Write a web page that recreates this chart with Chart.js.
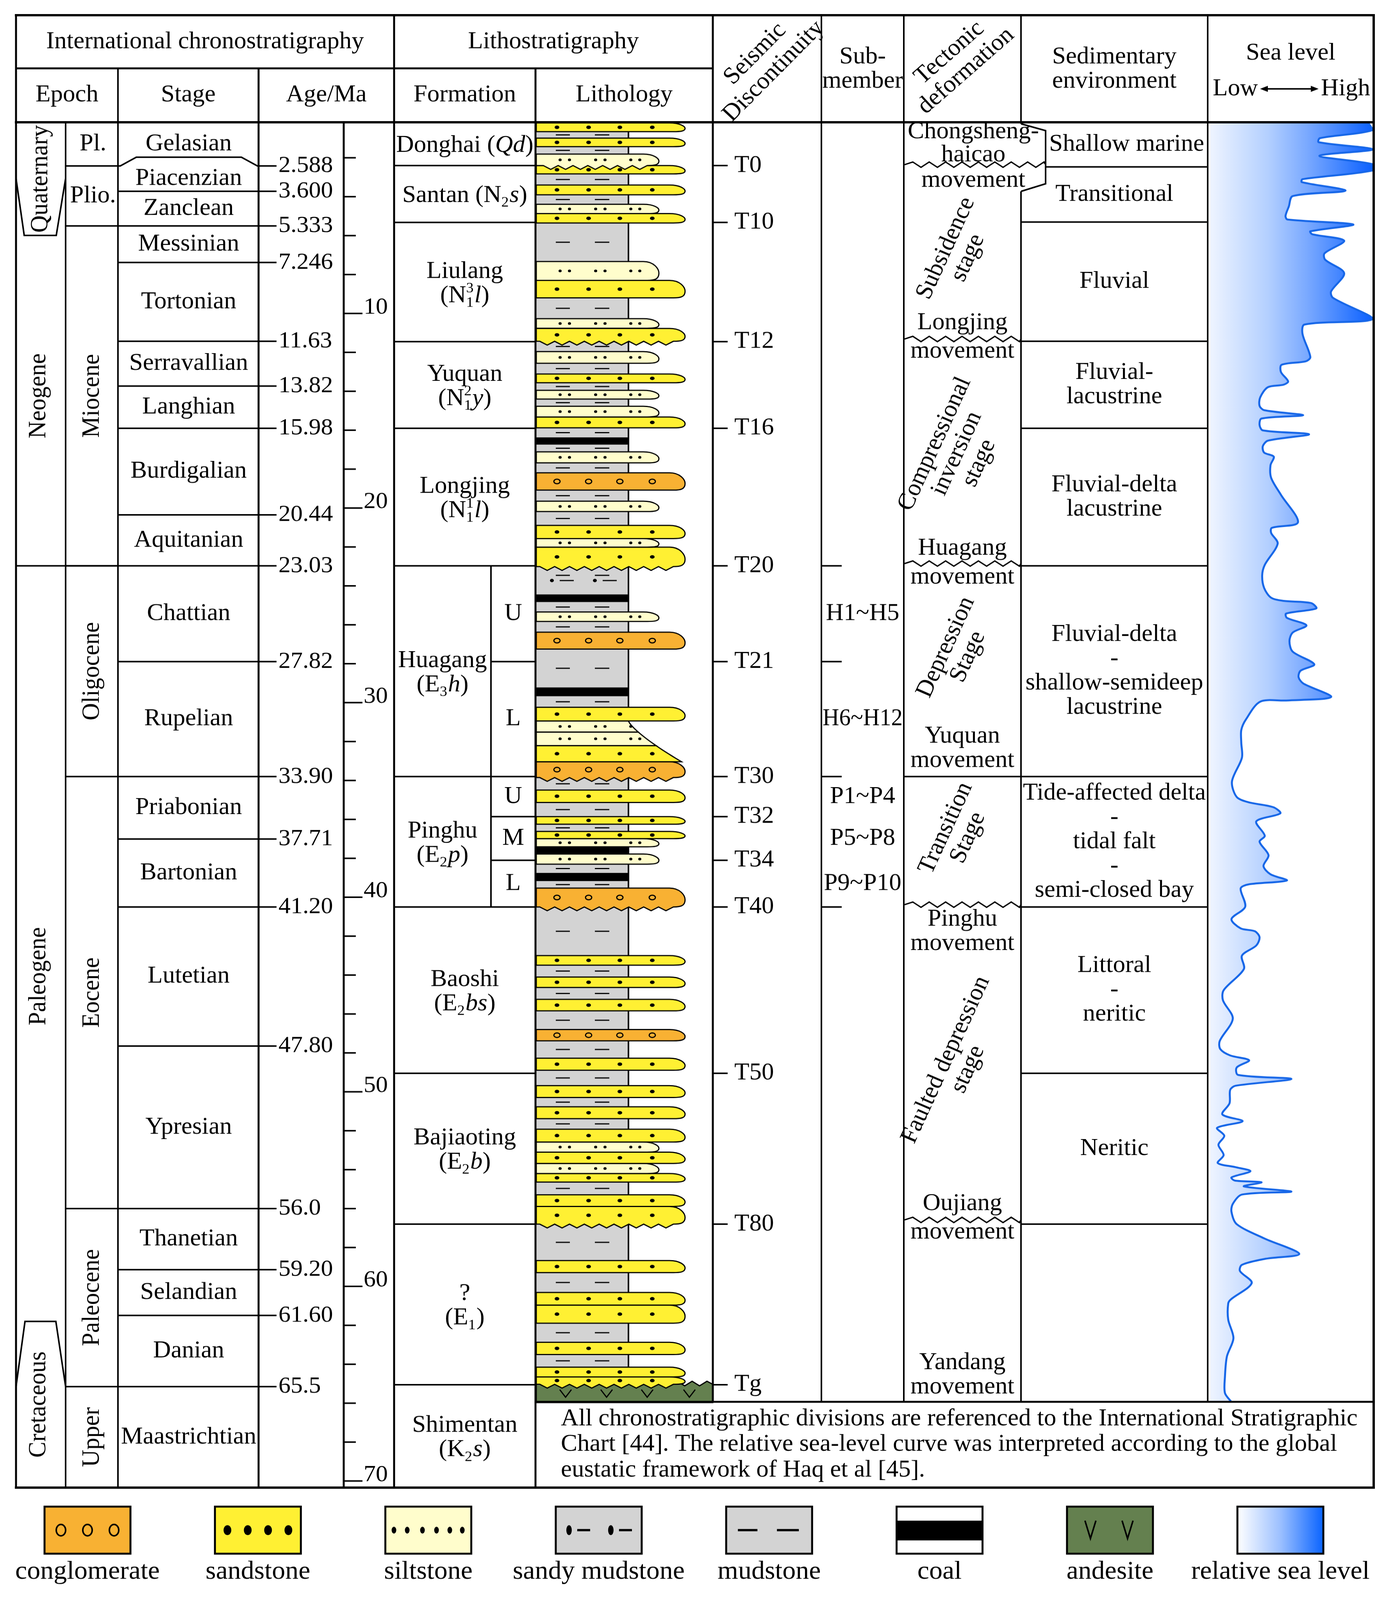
<!DOCTYPE html>
<html>
<head>
<meta charset="utf-8">
<script src="https://cdn.jsdelivr.net/npm/chart.js@4.4.1/dist/chart.umd.min.js"></script>
<style>
html,body{margin:0;padding:0;background:#ffffff;overflow:hidden;width:100%;height:100%;}
canvas{display:block;}
</style>
</head>
<body>
<canvas id="chart" width="3569" height="4214" style="width:100vw;height:100vh"></canvas>
<script>
// ================= DATA =================
// Relative sea level curve: age (Ma, plotted position) and level (0 = low, 100 = high)
const seaLevelAge = [0.18,0.59,0.99,1.20,1.57,1.90,2.34,2.66,3.10,3.25,3.69,3.97,4.51,4.99,5.17,5.43,5.78,5.93,6.26,6.91,7.24,7.93,8.87,9.20,10.28,10.57,11.05,12.24,12.46,12.64,13.01,13.49,13.66,13.79,14.31,14.75,14.97,15.23,15.40,15.73,16.01,16.21,16.54,16.82,17.15,17.36,17.80,18.45,19.32,20.74,21.02,21.28,21.83,22.92,23.46,24.11,24.61,24.77,24.88,25.16,25.42,25.64,26.03,26.40,26.84,27.38,28.03,28.36,28.69,29.01,29.71,29.89,29.95,30.87,31.41,32.06,32.83,34.05,34.85,35.12,35.37,35.69,36.10,36.84,37.15,37.84,38.40,38.82,39.14,39.34,39.55,40.49,41.12,41.60,41.75,42.06,42.48,43.00,43.69,44.78,45.30,46.24,47.39,47.81,48.13,48.38,48.75,49.13,49.34,49.69,49.90,50.59,51.16,51.51,51.85,52.26,52.72,53.25,53.66,53.87,54.08,54.40,54.56,54.65,54.86,55.13,55.28,55.76,56.17,56.80,57.53,58.33,58.58,58.89,59.21,59.83,60.67,60.88,61.71,62.66,63.60,64.64,65.48,65.94];
const seaLevelValue = [96.5,99.0,67.1,66.3,99.4,66.7,99.8,99.0,56.4,56.0,82.7,50.4,48.0,46.0,47.2,87.5,61.2,62.4,81.9,69.9,70.3,81.9,73.9,75.1,99.4,57.6,56.4,61.2,58.4,43.6,43.2,47.6,44.8,35.2,30.5,30.1,32.9,56.8,31.3,30.1,32.1,60.4,35.2,32.1,32.9,38.8,36.8,37.2,43.2,53.6,37.6,37.2,41.2,33.3,31.7,32.9,37.2,44.8,61.6,64.8,46.4,46.8,58.8,50.4,48.4,50.4,63.6,55.2,54.0,56.8,73.9,46.4,30.5,21.7,18.9,18.9,19.3,13.2,16.1,23.3,38.4,42.8,28.1,33.3,30.1,35.6,32.5,36.8,46.8,23.3,18.5,21.3,12.9,18.5,27.3,30.1,28.1,19.3,20.5,8.1,7.7,13.7,5.7,6.1,12.1,23.7,16.1,16.9,49.6,15.3,12.1,11.7,7.3,19.7,4.1,8.5,4.9,8.1,4.5,15.3,24.5,12.9,14.9,31.3,20.5,49.6,19.3,13.7,12.9,16.1,32.9,54.4,33.7,19.3,18.1,25.3,12.5,10.9,10.9,14.1,10.1,8.9,8.9,12.9];

// Age axis
const ageTickLabels = ['10','20','30','40','50','60','70'];

// Chronostratigraphy
const periodNames = ['Quaternary','Neogene','Paleogene','Cretaceous'];
const periodEdges = [0.18, 5.99, 22.97, 61.8, 70.34];
const epochNames = ['Pl.','Plio.','Miocene','Oligocene','Eocene','Paleocene','Upper'];
const epochEdges = [0.18, 2.42, 5.50, 22.97, 33.80, 56.00, 65.15, 70.34];
const stageNames = ['Gelasian','Piacenzian','Zanclean','Messinian','Tortonian','Serravallian','Langhian','Burdigalian','Aquitanian','Chattian','Rupelian','Priabonian','Bartonian','Lutetian','Ypresian','Thanetian','Selandian','Danian','Maastrichtian'];
const stageEdges = [0.18, 2.42, 3.72, 5.50, 7.38, 11.43, 13.73, 15.90, 20.35, 22.97, 27.89, 33.80, 37.01, 40.50, 47.65, 56.00, 59.14, 61.49, 65.15, 70.34];
const stageBoundaryLabels = ['2.588','3.600','5.333','7.246','11.63','13.82','15.98','20.44','23.03','27.82','33.90','37.71','41.20','47.80','56.0','59.20','61.60','65.5'];

// Lithostratigraphy (markup: *italic*, _sub, ^sup, | new line)
const formationNames = ['Donghai (*Qd*)','Santan (N_2*s*)','Liulang|(N_1^3*l*)','Yuquan|(N_1^2*y*)','Longjing|(N_1^1*l*)','Huagang|(E_3*h*)','Pinghu|(E_2*p*)','Baoshi|(E_2*bs*)','Bajiaoting|(E_2*b*)','?|(E_1)','Shimentan|(K_2*s*)'];
const formationEdges = [0.18, 2.40, 5.32, 11.45, 15.90, 22.97, 33.80, 40.50, 49.05, 56.80, 65.05, 70.34];
const memberNames = ['U','L','U','M','L'];
const memberTop = [22.97, 27.89, 33.80, 35.86, 38.10];
const memberBase = [27.89, 33.80, 35.86, 38.10, 40.50];

// Lithology column beds
const bedTop = [0.21,0.99,1.81,2.40,3.40,4.39,4.87,7.33,8.30,10.27,10.77,11.96,13.11,13.95,14.77,15.32,16.37,17.11,18.19,19.65,20.89,21.57,22.01,23.01,24.44,25.34,26.38,29.22,30.24,30.94,31.51,32.21,33.04,34.49,35.86,36.62,36.99,37.41,37.78,38.75,39.53,43.00,44.10,45.25,46.80,48.27,49.68,50.77,51.92,52.58,53.10,53.68,54.20,55.29,55.89,58.67,60.31,60.96,62.87,64.15,64.65,65.03];
const bedBase = [0.66,1.43,2.40,2.83,3.90,4.87,5.35,8.30,9.20,10.76,11.43,12.56,13.56,14.40,15.32,15.88,16.74,17.68,19.08,20.18,21.57,22.01,23.01,24.44,24.83,25.83,27.25,29.67,30.94,31.51,32.21,33.04,33.85,35.13,36.25,36.99,37.41,37.78,38.30,39.17,40.50,43.49,44.64,45.84,47.38,48.89,50.29,51.38,52.58,53.10,53.68,54.20,54.64,55.89,56.80,59.29,60.96,61.89,63.50,64.65,65.03,65.97];
const bedRock = ['sandstone','sandstone','siltstone','sandstone','sandstone','siltstone','sandstone','siltstone','sandstone','siltstone','sandstone','siltstone','sandstone','siltstone','siltstone','sandstone','coal','siltstone','conglomerate','siltstone','sandstone','siltstone','sandstone','sandy mudstone','coal','siltstone','conglomerate','coal','sandstone','siltstone','siltstone','sandstone','conglomerate','sandstone','sandstone','sandstone','siltstone','coal','siltstone','coal','conglomerate','sandstone','sandstone','sandstone','conglomerate','sandstone','sandstone','sandstone','sandstone','siltstone','sandstone','siltstone','sandstone','sandstone','sandstone','sandstone','sandstone','sandstone','sandstone','sandstone','sandstone','andesite'];
const bedErosive = [0,0,1,0,0,0,0,0,0,0,1,0,0,0,0,0,0,0,0,0,0,0,1,0,0,0,0,0,0,0,0,0,1,0,0,0,0,0,0,0,1,0,0,0,0,0,0,0,0,0,0,0,0,0,1,0,0,0,0,0,1,0];
// prograding wedge (beds between these ages end against a common sloping margin)
const wedgeAges = [30.94, 33.04];

// Seismic discontinuities and sub-members
const seismicNames = ['T0','T10','T12','T16','T20','T21','T30','T32','T34','T40','T50','T80','Tg'];
const seismicAges = [2.40, 5.32, 11.45, 15.90, 22.97, 27.89, 33.80, 35.86, 38.10, 40.50, 49.05, 56.80, 65.05];
const subMemberNames = ['H1~H5','H6~H12','P1~P4','P5~P8','P9~P10'];
const subMemberTop = [22.97, 27.89, 33.80, 35.86, 38.10];
const subMemberBase = [27.89, 33.80, 35.86, 38.10, 40.50];
const subMemberTicks = [22.97, 27.89, 33.80, 40.50];

// Tectonic deformation
const tectonicStageNames = ['Subsidence|stage','Compressional|inversion|stage','Depression|Stage','Transition|Stage','Faulted depression|stage'];
const tectonicStageLabelAge = [6.9, 17.2, 27.4, 36.7, 48.6];
const movementNames = ['Chongsheng-|haicao','Longjing','Huagang','Yuquan','Pinghu','Oujiang','Yandang'];
const movementAges = [2.47, 11.43, 22.97, 33.80, 40.50, 56.70, 65.05];
const movementUnconformity = [1, 1, 1, 0, 1, 1, 0];

// Sedimentary environment
const sedEnvNames = ['Shallow marine','Transitional','Fluvial','Fluvial-|lacustrine','Fluvial-delta|lacustrine','Fluvial-delta|-|shallow-semideep|lacustrine','Tide-affected delta|-|tidal falt|-|semi-closed bay','Littoral|-|neritic','Neritic',''];
const sedEnvEdges = [0.18, 2.47, 5.30, 11.43, 15.90, 22.97, 33.80, 40.50, 49.05, 56.80, 65.94];

// Legend and note
const legendLabels = ['conglomerate','sandstone','siltstone','sandy mudstone','mudstone','coal','andesite','relative sea level'];
const noteLines = ['All chronostratigraphic divisions are referenced to the International Stratigraphic','Chart [44]. The relative sea-level curve was interpreted according to the global','eustatic framework of Haq et al [45].'];

// ================= LAYOUT / STYLE =================
const FONT = '"Liberation Serif","Times New Roman",serif';
const FS = 63;
const COL = {left:41, period:168, epoch:302, stage:662, stageLineEnd:708, ageAxis:880, age:1009, member:1257, formation:1371, litho:1825, seismic:2103, sub:2314, tect:2614, sed:3092, right:3517};
const ROW = {top:40, mid:180, head:322, foot:3692, bottom:3918};
const LITHO = {x0:1373, grayR:1609, wedgeR:1745, tongue:{sandstone:1754, conglomerate:1754, siltstone:1687}};
const COLORS = {conglomerate:'#F8B133', sandstone:'#FFF033', siltstone:'#FFFDCC', mud:'#D3D3D3', andesite:'#64804F'};
const movementLayout = [[-92, 36], [-48, 27], [-46, 30], [-106, -42], [33, 97], [-48, 27], [-57, 7]];

function F(size, style) { return (style ? style + ' ' : '') + size + 'px ' + FONT; }

function parseRich(s) {
  const segs = []; let italic = false; let buf = ''; let i = 0;
  const flush = () => { if (buf) { segs.push({t: buf, s: italic ? 'i' : 'n'}); buf = ''; } };
  while (i < s.length) {
    const ch = s[i];
    if (ch === '*') { flush(); italic = !italic; i++; }
    else if (ch === '_') {
      flush();
      if (s[i + 2] === '^') { segs.push({t: s[i + 1], t2: s[i + 3], s: 'ss'}); i += 4; }
      else { segs.push({t: s[i + 1], s: 'sub'}); i += 2; }
    } else if (ch === '^') { flush(); segs.push({t: s[i + 1], s: 'sup'}); i += 2; }
    else { buf += ch; i++; }
  }
  flush();
  return segs;
}

function drawRich(ctx, str, cx, cy, size) {
  const segs = parseRich(str);
  const small = Math.round(size * 0.6);
  const setF = seg => { ctx.font = seg.s === 'i' ? F(size, 'italic') : (seg.s === 'n' ? F(size) : F(small)); };
  const widths = []; let total = 0;
  segs.forEach(seg => {
    setF(seg);
    let w = ctx.measureText(seg.t).width;
    if (seg.s === 'ss') w = Math.max(w, ctx.measureText(seg.t2).width);
    if (seg.s !== 'n' && seg.s !== 'i') w += 2;
    widths.push(w); total += w;
  });
  let x = cx - total / 2;
  const base = cy + size * 0.33;
  ctx.fillStyle = '#000';
  ctx.textAlign = 'left'; ctx.textBaseline = 'alphabetic';
  segs.forEach((seg, k) => {
    setF(seg);
    if (seg.s === 'sub') ctx.fillText(seg.t, x, base + size * 0.2);
    else if (seg.s === 'sup') ctx.fillText(seg.t, x, base - size * 0.4);
    else if (seg.s === 'ss') { ctx.fillText(seg.t, x, base + size * 0.2); ctx.fillText(seg.t2, x, base - size * 0.4); }
    else ctx.fillText(seg.t, x, base);
    x += widths[k];
  });
}

function drawTable(chart) {
  const ctx = chart.ctx;
  const ys = chart.scales.y;
  const Y = a => ys.getPixelForValue(a);
  ctx.save();
  ctx.strokeStyle = '#000'; ctx.fillStyle = '#000'; ctx.lineCap = 'butt'; ctx.lineJoin = 'miter';

  const seg = (x1, y1, x2, y2, w) => { ctx.lineWidth = w; ctx.beginPath(); ctx.moveTo(x1, y1); ctx.lineTo(x2, y2); ctx.stroke(); };
  const poly = (pts, w) => { ctx.lineWidth = w; ctx.beginPath(); pts.forEach((p, i) => i ? ctx.lineTo(p[0], p[1]) : ctx.moveTo(p[0], p[1])); ctx.stroke(); };
  const txt = (s, x, y, size, align, style, maxW) => {
    ctx.fillStyle = '#000'; ctx.font = F(size || FS, style); ctx.textAlign = align || 'center'; ctx.textBaseline = 'middle';
    if (maxW) ctx.fillText(s, x, y, maxW); else ctx.fillText(s, x, y);
  };
  const block = (arr, x, cy, size, lh, maxW) => { const n = arr.length; arr.forEach((s, i) => txt(s, x, cy + (i - (n - 1) / 2) * lh, size, 'center', '', maxW)); };
  const rot = (arr, cx, cy, deg, size, lh) => {
    ctx.save(); ctx.translate(cx, cy); ctx.rotate(deg * Math.PI / 180);
    ctx.fillStyle = '#000'; ctx.font = F(size || FS); ctx.textAlign = 'center'; ctx.textBaseline = 'middle';
    const n = arr.length; arr.forEach((s, i) => ctx.fillText(s, 0, (i - (n - 1) / 2) * (lh || 62)));
    ctx.restore();
  };
  const zig = (x1, x2, y, half, amp, w) => {
    ctx.lineWidth = w; ctx.beginPath(); ctx.moveTo(x1, y); let x = x1, k = 0;
    while (x + half < x2) { x += half; k++; ctx.lineTo(x, y + (k % 2 ? -amp : amp)); }
    ctx.lineTo(x2, y); ctx.stroke();
  };

  // ---------- Lithology column ----------
  const topY = Y(0.18), grayBot = Y(65.03);
  ctx.fillStyle = COLORS.mud; ctx.fillRect(LITHO.x0, topY, LITHO.grayR - LITHO.x0, grayBot - topY);
  const dashes = (y) => { seg(1423, y, 1459, y, 3); seg(1523, y, 1560, y, 3); };
  let prev = 0.18;
  for (let i = 0; i < bedTop.length; i++) {
    if (bedTop[i] - prev >= 0.25) dashes(Y((prev + bedTop[i]) / 2));
    prev = Math.max(prev, bedBase[i]);
  }
  seg(LITHO.grayR, topY, LITHO.grayR, grayBot, 4);

  const wedgeX = a => LITHO.grayR + (LITHO.wedgeR - LITHO.grayR) * Math.pow(Math.max(0, (a - wedgeAges[0]) / (wedgeAges[1] - wedgeAges[0])), 1.3);
  const tongue = (x0, x1, yt, yb, erosive) => {
    const h = yb - yt;
    ctx.beginPath(); ctx.moveTo(x0, yt);
    ctx.lineTo(x1 - 40, yt);
    ctx.bezierCurveTo(x1 - 12, yt, x1, yt + h * 0.4, x1, yt + h * 0.62);
    ctx.bezierCurveTo(x1, yb - h * 0.05, x1 - 12, yb, x1 - 30, yb);
    if (erosive) {
      let x = x1 - 30, k = 0;
      while (x - 19 > x0) { x -= 19; k++; ctx.lineTo(x, yb + (k % 2 ? 10 : 0)); }
      ctx.lineTo(x0, yb);
    } else ctx.lineTo(x0, yb);
    ctx.closePath();
  };
  for (let i = bedTop.length - 1; i >= 0; i--) {
    const rock = bedRock[i]; const yt = Y(bedTop[i]), yb = Y(bedBase[i]); const ym = (yt + yb) / 2;
    if (rock === 'coal') { ctx.fillStyle = '#000'; ctx.fillRect(LITHO.x0, yt, LITHO.grayR - LITHO.x0, yb - yt); continue; }
    if (rock === 'sandy mudstone') {
      ctx.fillStyle = '#000';
      [1413, 1523].forEach(x => { ctx.beginPath(); ctx.ellipse(x, ym, 5, 4.5, 0, 0, Math.PI * 2); ctx.fill(); seg(x + 20, ym, x + 56, ym, 3); });
      dashes(Y(bedTop[i] + 0.45));
      continue;
    }
    if (rock === 'andesite') {
      ctx.fillStyle = COLORS.andesite;
      ctx.beginPath(); ctx.moveTo(LITHO.x0, yb); ctx.lineTo(LITHO.x0, yt);
      let x = LITHO.x0, k = 0;
      while (x + 19 < COL.litho) { x += 19; k++; ctx.lineTo(x, yt + (k % 2 ? -8 : 4)); }
      ctx.lineTo(COL.litho, yt); ctx.lineTo(COL.litho, yb); ctx.closePath(); ctx.fill();
      ctx.lineWidth = 3; ctx.strokeStyle = '#000'; ctx.stroke();
      [1448, 1553, 1657, 1765].forEach(vx => poly([[vx - 15, ym - 10], [vx, ym + 10], [vx + 15, ym - 10]], 3));
      continue;
    }
    ctx.fillStyle = COLORS[rock];
    if (bedTop[i] >= wedgeAges[0] && bedBase[i] <= wedgeAges[1]) {
      // bed pinching against the wedge margin
      ctx.beginPath(); ctx.moveTo(LITHO.x0, yt);
      ctx.lineTo(wedgeX(bedTop[i]), yt);
      for (let s = 1; s <= 8; s++) { const a = bedTop[i] + (bedBase[i] - bedTop[i]) * s / 8; ctx.lineTo(wedgeX(a), Y(a)); }
      ctx.lineTo(LITHO.x0, yb); ctx.closePath();
    } else {
      tongue(LITHO.x0, LITHO.tongue[rock], yt, yb, bedErosive[i]);
    }
    ctx.fill(); ctx.lineWidth = 3; ctx.strokeStyle = '#000'; ctx.stroke();
    ctx.fillStyle = '#000';
    if (rock === 'sandstone') {
      [1426, 1507, 1587, 1670].forEach(x => { ctx.beginPath(); ctx.ellipse(x, ym, 6, 4.5, 0, 0, Math.PI * 2); ctx.fill(); });
    } else if (rock === 'siltstone') {
      [1434, 1458, 1525, 1549, 1615, 1638].forEach(x => { if (x < wedgeX(bedBase[i]) - 8 || bedTop[i] < wedgeAges[0] || bedBase[i] > wedgeAges[1]) { ctx.beginPath(); ctx.ellipse(x, ym, 4, 3.5, 0, 0, Math.PI * 2); ctx.fill(); } });
    } else if (rock === 'conglomerate') {
      [1426, 1507, 1587, 1670].forEach(x => { ctx.lineWidth = 3; ctx.beginPath(); ctx.ellipse(x, ym, 8, 6, 0, 0, Math.PI * 2); ctx.stroke(); });
    }
  }
  ctx.strokeStyle = '#000'; ctx.fillStyle = '#000';

  // ---------- Frame ----------
  seg(COL.left - 3, ROW.top, COL.right + 3, ROW.top, 6);
  seg(COL.left, ROW.mid, COL.litho, ROW.mid, 5);
  seg(COL.left - 3, ROW.head, COL.right + 3, ROW.head, 6);
  seg(COL.left - 3, ROW.bottom, COL.right + 3, ROW.bottom, 6);
  seg(COL.formation, ROW.foot, COL.right, ROW.foot, 5);
  seg(COL.left, ROW.top, COL.left, ROW.bottom, 5);
  seg(COL.period, ROW.head, COL.period, ROW.bottom, 4);
  seg(COL.epoch, ROW.mid, COL.epoch, ROW.bottom, 4);
  seg(COL.stage, ROW.mid, COL.stage, ROW.bottom, 5);
  seg(COL.ageAxis, ROW.head, COL.ageAxis, ROW.bottom, 5);
  seg(COL.age, ROW.top, COL.age, ROW.bottom, 5);
  seg(COL.formation, ROW.mid, COL.formation, ROW.bottom, 5);
  seg(COL.litho, ROW.top, COL.litho, ROW.foot, 5);
  seg(COL.seismic, ROW.top, COL.seismic, ROW.foot, 4);
  seg(COL.sub, ROW.top, COL.sub, ROW.foot, 4);
  seg(COL.tect, ROW.top, COL.tect, 326, 4);
  seg(COL.tect, 504, COL.tect, ROW.foot, 4);
  seg(COL.sed, ROW.top, COL.sed, ROW.foot, 4);
  seg(COL.right, ROW.top, COL.right, ROW.bottom, 6);

  // ---------- Header ----------
  txt('International chronostratigraphy', (COL.left + COL.age) / 2, 110);
  txt('Lithostratigraphy', (COL.age + COL.litho) / 2, 110);
  txt('Epoch', (COL.left + COL.epoch) / 2, 250);
  txt('Stage', (COL.epoch + COL.stage) / 2, 250);
  txt('Age/Ma', (COL.stage + COL.age) / 2, 250);
  txt('Formation', (COL.age + COL.formation) / 2, 250);
  txt('Lithology', (COL.formation + COL.litho) / 2, 250);
  rot(['Seismic', 'Discontinuity'], 1957, 165, -46, FS, 66);
  block(['Sub-', 'member'], (COL.seismic + COL.sub) / 2, 182, FS, 64);
  rot(['Tectonic', 'deformation'], 2452, 163, -42, FS, 64);
  block(['Sedimentary', 'environment'], (COL.tect + COL.sed) / 2, 182, FS, 64);
  txt('Sea level', (COL.sed + COL.right) / 2, 140);
  txt('Low', 3105, 234, FS, 'left');
  txt('High', 3382, 234, FS, 'left');
  seg(3240, 234, 3362, 234, 4);
  ctx.beginPath(); ctx.moveTo(3226, 234); ctx.lineTo(3246, 226); ctx.lineTo(3246, 242); ctx.closePath(); ctx.fill();
  ctx.beginPath(); ctx.moveTo(3376, 234); ctx.lineTo(3356, 226); ctx.lineTo(3356, 242); ctx.closePath(); ctx.fill();

  // ---------- Period column ----------
  const qTaper = Y(3.06), qBot = Y(periodEdges[1]);
  poly([[COL.left, qTaper], [62, qBot], [144, qBot], [COL.period, qTaper]], 4);
  rot([periodNames[0]], 104, (ROW.head + qBot) / 2, -90, FS);
  seg(COL.left, Y(periodEdges[2]), COL.epoch, Y(periodEdges[2]), 4);
  rot([periodNames[1]], 99, Y((5.50 + periodEdges[2]) / 2), -90, FS);
  rot([periodNames[2]], 99, Y((periodEdges[2] + 65.15) / 2), -90, FS);
  const kTop = Y(periodEdges[3]), kSh = Y(65.15);
  poly([[COL.left, kSh], [64, kTop], [143, kTop], [COL.period, kSh]], 4);
  rot([periodNames[3]], 99, (kTop + ROW.bottom) / 2, -90, FS);

  // ---------- Epoch column ----------
  for (let i = 1; i < epochEdges.length - 1; i++) seg(COL.period, Y(epochEdges[i]), COL.epoch, Y(epochEdges[i]), 4);
  epochNames.forEach((n, i) => {
    const cy = Y((epochEdges[i] + epochEdges[i + 1]) / 2);
    if (epochEdges[i + 1] - epochEdges[i] > 4) rot([n], 236, cy, -90, FS);
    else txt(n, 238, cy);
  });

  // ---------- Stage column + ages ----------
  for (let i = 1; i < stageEdges.length - 1; i++) {
    const y = Y(stageEdges[i]);
    if (i === 1) {
      const yn = Y(1.97);
      poly([[COL.epoch, y], [308, y], [349, yn], [618, yn], [COL.stage - 3, y], [COL.stageLineEnd, y]], 4);
    } else seg(COL.epoch, y, COL.stageLineEnd, y, 4);
    txt(stageBoundaryLabels[i - 1], 713, y, 62, 'left');
  }
  stageNames.forEach((n, i) => txt(n, (COL.epoch + COL.stage) / 2 + 1, Y((stageEdges[i] + stageEdges[i + 1]) / 2), FS, 'center', '', 352));
  for (let a = 2; a <= 70; a += 2) {
    const y = Y(a); const major = a % 10 === 0;
    seg(COL.ageAxis, y, COL.ageAxis + (major ? 48 : 31), y, 4);
    if (major) txt(ageTickLabels[a / 10 - 1], 931, y - 16, 62, 'left');
  }

  // ---------- Formation column ----------
  for (let i = 1; i < formationEdges.length - 1; i++) seg(COL.age, Y(formationEdges[i]), COL.formation, Y(formationEdges[i]), 4);
  seg(COL.member, Y(memberTop[0]), COL.member, Y(memberBase[memberBase.length - 1]), 4);
  memberTop.forEach((t, i) => {
    if (i > 0 && t !== formationEdges[6]) seg(COL.member, Y(t), COL.formation, Y(t), 4);
    txt(memberNames[i], (COL.member + COL.formation) / 2, Y((t + memberBase[i]) / 2));
  });
  formationNames.forEach((n, i) => {
    const a0 = formationEdges[i], a1 = formationEdges[i + 1];
    const hasMembers = a0 >= memberTop[0] && a1 <= memberBase[memberBase.length - 1];
    const cx = hasMembers ? (COL.age + COL.member) / 2 : (COL.age + COL.formation) / 2;
    const parts = n.split('|'); const cy = Y((a0 + a1) / 2);
    parts.forEach((p, k) => drawRich(ctx, p, cx, cy + (k - (parts.length - 1) / 2) * 64, FS));
  });

  // ---------- Seismic & sub-member ----------
  seismicNames.forEach((n, i) => { const y = Y(seismicAges[i]); seg(COL.litho, y, COL.litho + 38, y, 4); txt(n, 1880, y, FS, 'left'); });
  subMemberTicks.forEach(a => seg(COL.seismic, Y(a), COL.seismic + 52, Y(a), 4));
  subMemberNames.forEach((n, i) => txt(n, (COL.seismic + COL.sub) / 2, Y((subMemberTop[i] + subMemberBase[i]) / 2), FS, 'center', '', 205));

  // ---------- Tectonic column ----------
  poly([[COL.tect, 326], [2677, 344], [2677, 484], [COL.tect, 504]], 4);
  movementNames.forEach((n, i) => {
    const y = Y(movementAges[i]); const lay = movementLayout[i];
    const x2 = i === 0 ? 2677 : COL.tect;
    const cx = i === 0 ? 2492 : (COL.sub + COL.tect) / 2;
    if (movementUnconformity[i]) zig(COL.sub + 2, x2, y - 6, 21, 7, 3.5);
    else if (i === 3) seg(COL.sub, y, COL.tect, y, 4);
    n.split('|').forEach((p, k) => txt(p, cx, y + lay[0] + k * 61));
    txt('movement', cx, y + lay[1]);
  });
  tectonicStageNames.forEach((n, i) => rot(n.split('|'), 2450, Y(tectonicStageLabelAge[i]), -66, FS, 62));

  // ---------- Sedimentary environment ----------
  for (let i = 1; i < sedEnvEdges.length - 1; i++) {
    const y = Y(sedEnvEdges[i]);
    seg(i === 1 ? 2677 : COL.tect, y, COL.sed, y, 4);
  }
  sedEnvNames.forEach((n, i) => {
    if (!n) return;
    const cx = i === 0 ? (2677 + COL.sed) / 2 : (COL.tect + COL.sed) / 2;
    block(n.split('|'), cx, Y((sedEnvEdges[i] + sedEnvEdges[i + 1]) / 2), FS, 64, i === 0 ? 405 : 468);
  });

  // ---------- Note ----------
  noteLines.forEach((s, i) => txt(s, 1436, 3737 + i * 67.5, 63, 'left', '', 2070));

  // ---------- Legend ----------
  legendLabels.forEach((lab, i) => {
    const bx = 114 + i * 436.3, by = 3968, bw = 220, bh = 124;
    const cx = bx + bw / 2, cy = by + bh / 2;
    if (lab === 'conglomerate') ctx.fillStyle = COLORS.conglomerate;
    else if (lab === 'sandstone') ctx.fillStyle = COLORS.sandstone;
    else if (lab === 'siltstone') ctx.fillStyle = COLORS.siltstone;
    else if (lab === 'sandy mudstone' || lab === 'mudstone') ctx.fillStyle = COLORS.mud;
    else if (lab === 'coal') ctx.fillStyle = '#ffffff';
    else if (lab === 'andesite') ctx.fillStyle = COLORS.andesite;
    else { const g = ctx.createLinearGradient(bx, 0, bx + bw, 0); g.addColorStop(0, '#ffffff'); g.addColorStop(0.5, '#9CC0FF'); g.addColorStop(1, '#0A64FF'); ctx.fillStyle = g; }
    ctx.fillRect(bx, by, bw, bh);
    ctx.fillStyle = '#000';
    if (lab === 'conglomerate') [cx - 68, cx, cx + 68].forEach(x => { ctx.lineWidth = 4; ctx.beginPath(); ctx.ellipse(x, cy, 12, 15, 0, 0, Math.PI * 2); ctx.stroke(); });
    else if (lab === 'sandstone') [-78, -26, 26, 78].forEach(d => { ctx.beginPath(); ctx.ellipse(cx + d, cy, 10, 13, 0, 0, Math.PI * 2); ctx.fill(); });
    else if (lab === 'siltstone') [-88, -54, -15, 21, 55, 87].forEach(d => { ctx.beginPath(); ctx.ellipse(cx + d, cy, 6, 9, 0, 0, Math.PI * 2); ctx.fill(); });
    else if (lab === 'sandy mudstone') [-76, 31].forEach(d => { ctx.beginPath(); ctx.ellipse(cx + d, cy, 7, 13, 0, 0, Math.PI * 2); ctx.fill(); seg(cx + d + 21, cy, cx + d + 54, cy, 6); });
    else if (lab === 'mudstone') { seg(cx - 80, cy, cx - 30, cy, 6); seg(cx + 20, cy, cx + 76, cy, 6); }
    else if (lab === 'coal') ctx.fillRect(bx, by + 37, bw, 52);
    else if (lab === 'andesite') [-50, 45].forEach(d => poly([[cx + d - 14, cy - 25], [cx + d, cy + 22], [cx + d + 14, cy - 25]], 4));
    ctx.lineWidth = 5; ctx.strokeRect(bx, by, bw, bh);
    txt(lab, cx, 4140, 68);
  });

  ctx.restore();
}

const tablePlugin = {
  id: 'stratTable',
  beforeDraw(chart) { const c = chart.ctx; c.save(); c.fillStyle = '#ffffff'; c.fillRect(0, 0, chart.width, chart.height); c.restore(); },
  afterDatasetsDraw(chart) { drawTable(chart); }
};

new Chart(document.getElementById('chart'), {
  type: 'line',
  data: {
    datasets: [{
      label: 'relative sea level',
      data: seaLevelAge.map((a, i) => ({x: seaLevelValue[i], y: a})),
      borderColor: '#1767E8',
      borderWidth: 5,
      pointRadius: 0,
      tension: 0.3,
      fill: {value: 0},
      backgroundColor: (context) => {
        const ca = context.chart.chartArea;
        if (!ca) return 'rgba(60,130,255,0.6)';
        const g = context.chart.ctx.createLinearGradient(ca.left, 0, ca.right, 0);
        g.addColorStop(0, '#EEF4FF');
        g.addColorStop(0.35, '#B4D0FF');
        g.addColorStop(0.6, '#78A8FF');
        g.addColorStop(1, '#0A60FF');
        return g;
      }
    }]
  },
  options: {
    indexAxis: 'y',
    responsive: false,
    animation: false,
    devicePixelRatio: 1,
    layout: {padding: {left: 3099, right: 52, top: 313, bottom: 296}},
    scales: {
      x: {type: 'linear', min: 0, max: 100, display: false},
      y: {type: 'linear', min: 0, max: 70.34, reverse: true, display: false}
    },
    plugins: {legend: {display: false}, tooltip: {enabled: false}, title: {display: false}}
  },
  plugins: [tablePlugin]
});
</script>
</body>
</html>
